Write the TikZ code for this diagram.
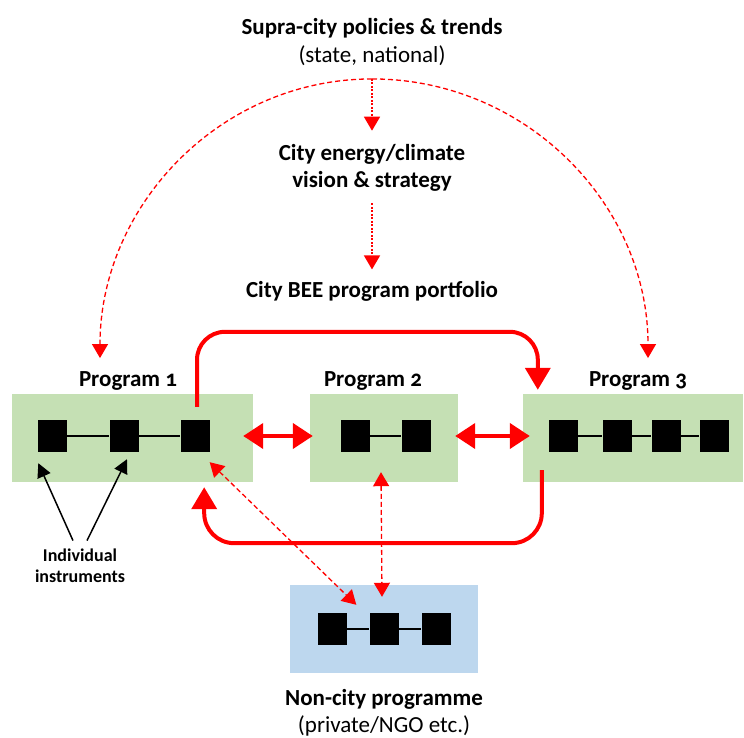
\documentclass[tikz,border=0pt]{standalone}
\usepackage{fontspec}
\setmainfont{Carlito}[Numbers=OldStyle]
\usetikzlibrary{arrows.meta}
\usetikzlibrary{positioning}
\definecolor{progreen}{HTML}{C5E0B4}
\definecolor{noncity}{HTML}{BDD7EE}
\definecolor{linkred}{HTML}{FF0000}

\begin{document}
\begin{tikzpicture}[x=1pt,y=-1pt,
  sq/.style={fill=black,minimum width=29pt,minimum height=32pt,inner sep=0pt},
  greenbox/.style={fill=progreen,minimum height=88pt,inner sep=0pt},
  bluebox/.style={fill=noncity,minimum width=188pt,minimum height=88pt,inner sep=0pt},
  head/.style={font=\fontsize{23}{27.5}\selectfont\bfseries,align=center},
  small/.style={font=\fontsize{18}{21}\selectfont\bfseries,align=center},
  bigarr/.style={draw=linkred,line width=4pt,-{Triangle[width=25pt,length=22pt]}},
  twoway/.style={draw=linkred,line width=4pt,{Triangle[width=25pt,length=20pt]}-{Triangle[width=25pt,length=20pt]}},
  dotarr/.style={draw=linkred,line width=1.6pt,dash pattern=on 2pt off 1.5pt,-{Triangle[width=16pt,length=14pt]}},
  dasharr/.style={draw=linkred,line width=1.3pt,dash pattern=on 5pt off 3pt,-{Triangle[width=16pt,length=14pt]}},
  blkarr/.style={draw=black,line width=1.5pt,-{Triangle[width=14pt,length=14pt]}}]
  \useasboundingbox (0,0) rectangle (744,738);

  % headings
  \node[head] (supra) at (372,42) {Supra-city policies \& trends\\\mdseries(state, national)};
  \node[head] (vision) at (372,168) {City energy/climate\\vision \& strategy};
  \node[head] (bee) at (372,291) {City BEE program portfolio};

  % programme boxes
  \node[greenbox,minimum width=241pt] (p1) at (132.5,438) {};
  \node[greenbox,minimum width=148pt] (p2) at (384,438) {};
  \node[greenbox,minimum width=220pt] (p3) at (633,438) {};
  \node[bluebox] (nc) at (384,629) {};
  \node[head] (lab1) at (128,381) {Program 1};
  \node[head] (lab2) at (373,381) {Program 2};
  \node[head] (lab3) at (638,381) {Program 3};
  \node[head] (nctext) at (384,713) {Non-city programme\\\mdseries(private/NGO etc.)};
  \node[small] (inst) at (80,566) {Individual\\instruments};

  % instruments
  \node[sq] (p1a) at (52,436) {};
  \node[sq] (p1b) at (124,436) {};
  \node[sq] (p1c) at (195,436) {};
  \node[sq] (p2a) at (355,436) {};
  \node[sq] (p2b) at (416,436) {};
  \node[sq] (p3a) at (563,436) {};
  \node[sq] (p3b) at (617,436) {};
  \node[sq] (p3c) at (666,436) {};
  \node[sq] (p3d) at (714,436) {};
  \node[sq] (nca) at (332,629) {};
  \node[sq] (ncb) at (384,629) {};
  \node[sq] (ncc) at (436,629) {};
  \draw[line width=1.4pt] (p1a) -- (p1b) -- (p1c);
  \draw[line width=1.4pt] (p2a) -- (p2b);
  \draw[line width=1.4pt] (p3a) -- (p3b) -- (p3c) -- (p3d);
  \draw[line width=1.4pt] (nca) -- (ncb) -- (ncc);

  % top-down influence
  \draw[dotarr] ([yshift=-10pt]supra.south) -- ([yshift=10pt]vision.north);
  \draw[dotarr] ([yshift=-8pt]vision.south) -- ([yshift=8pt]bee.north);
  \draw[dasharr] ([yshift=-10pt]supra.south) to[out=180,in=90] ([xshift=-28pt,yshift=10pt]lab1.north);
  \draw[dasharr] ([yshift=-10pt]supra.south) to[out=0,in=90] ([xshift=10pt,yshift=10pt]lab3.north);

  % links between programmes
  \draw[bigarr,rounded corners=28pt] ([xshift=2pt,yshift=13pt]p1c.north) -- ++(0,-75) -| ([xshift=15pt,yshift=4pt]p3.north west);
  \draw[bigarr,rounded corners=30pt] ([xshift=19pt,yshift=12pt]p3.south west) -- ++(0,73) -| ([xshift=-49pt,yshift=-5pt]p1.south east);
  \draw[twoway] ([xshift=-10pt,yshift=2pt]p1.east) -- ([xshift=3pt,yshift=2pt]p2.west);
  \draw[twoway] ([xshift=-3pt,yshift=2pt]p2.east) -- ([xshift=7pt,yshift=2pt]p3.west);
  \draw[dasharr,{Triangle[width=16pt,length=14pt]}-{Triangle[width=16pt,length=14pt]}] ([yshift=-10pt]p1c.south east) -- ([shift={(-13,-8)}]ncb.north west);
  \draw[dasharr,{Triangle[width=16pt,length=14pt]}-{Triangle[width=16pt,length=14pt]}] ([xshift=-3pt,yshift=10pt]p2.south) -- ([xshift=-2pt,yshift=-12pt]nc.north);

  % pointers to instruments
  \draw[blkarr] ([xshift=-7pt,yshift=5pt]inst.north) -- ([shift={(1,11)}]p1a.south west);
  \draw[blkarr] ([xshift=7pt,yshift=5pt]inst.north) -- ([shift={(3,7)}]p1b.south);
\end{tikzpicture}
\end{document}
